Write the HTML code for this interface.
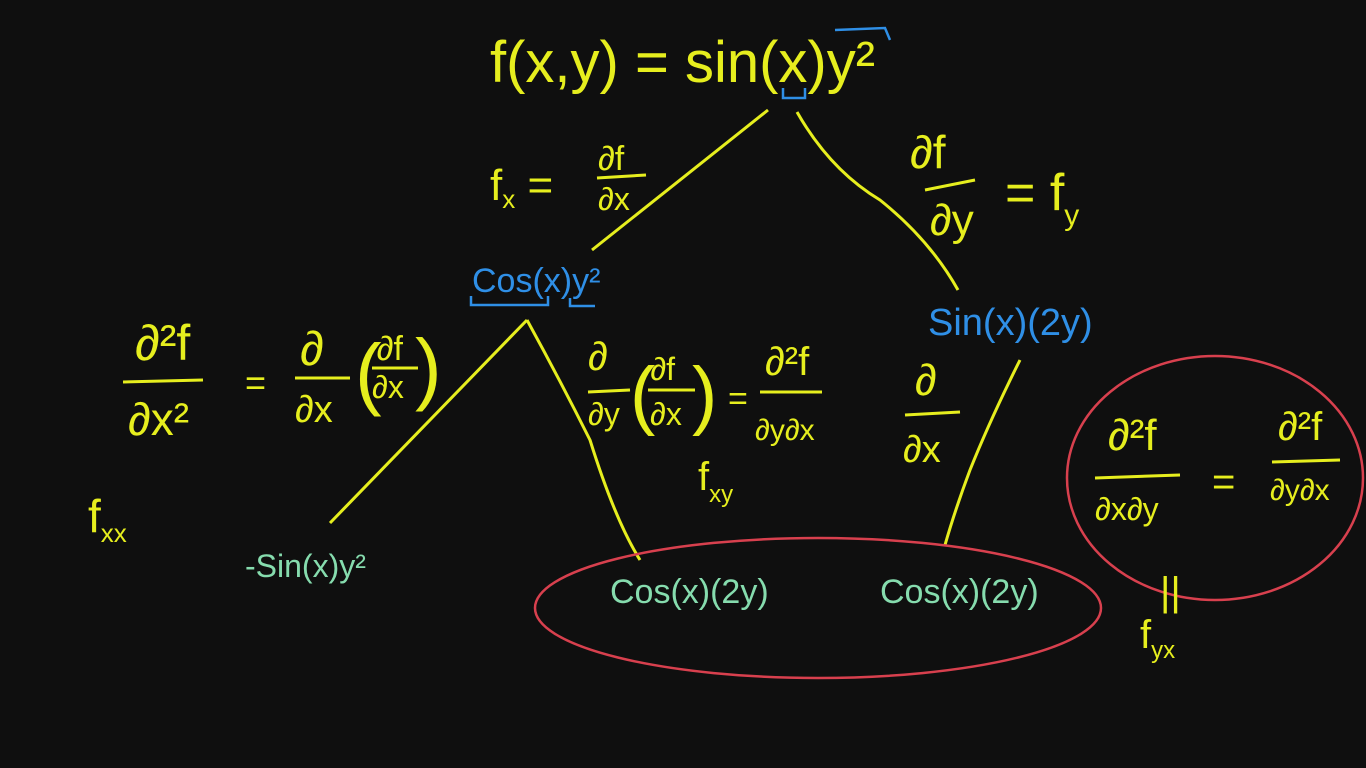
<!DOCTYPE html>
<html><head><meta charset="utf-8"><style>
html,body{margin:0;padding:0;background:#0f0f0f;}
svg{display:block}
text{font-family:"Liberation Sans",sans-serif;}
.y{fill:#e6ee1e}.b{fill:#2f8fe6}.g{fill:#86dcae}
</style></head><body>
<svg width="1366" height="768" viewBox="0 0 1366 768">
<rect width="1366" height="768" fill="#0f0f0f"/>
<g class="y">
<text x="490" y="82" font-size="58" class="y">f(x,y) = sin(x)y²</text>
</g>
<g stroke="#e6ee1e" stroke-width="3" fill="none">
<path d="M768 110 L592 250"/>
<path d="M797 112 Q830 170 880 200 Q930 240 958 290"/>
<path d="M527 320 L330 523"/>
<path d="M527 320 Q560 380 590 440 Q615 520 640 560"/>
<path d="M1020 360 Q990 420 970 470 Q955 510 945 545"/>
</g>
<g stroke="#2f8fe6" stroke-width="2.5" fill="none">
<path d="M783 88 L783 98 L805 98 L805 88"/>
<path d="M835 30 L885 28 L890 40"/>
<path d="M471 296 L471 305 L548 305 L548 296"/>
<path d="M570 298 L570 306 L595 306"/>
</g>
<text x="490" y="200" font-size="44" class="y">f<tspan font-size="26" dy="8">x</tspan><tspan dy="-8"> = </tspan></text>
<text x="598" y="170" font-size="34" class="y">∂f</text>
<line x1="597" y1="178" x2="646" y2="175" stroke="#e6ee1e" stroke-width="3"/>
<text x="598" y="210" font-size="32" class="y">∂x</text>
<text x="910" y="168" font-size="46" class="y">∂f</text>
<line x1="925" y1="190" x2="975" y2="180" stroke="#e6ee1e" stroke-width="3"/>
<text x="930" y="235" font-size="44" class="y">∂y</text>
<text x="1005" y="210" font-size="52" class="y">= f<tspan font-size="30" dy="15">y</tspan></text>
<text x="472" y="292" font-size="34" class="b">Cos(x)y²</text>
<text x="928" y="335" font-size="38" class="b">Sin(x)(2y)</text>
<text x="135" y="360" font-size="50" class="y">∂²f</text>
<line x1="123" y1="382" x2="203" y2="380" stroke="#e6ee1e" stroke-width="3"/>
<text x="128" y="435" font-size="46" class="y">∂x²</text>
<text x="245" y="395" font-size="36" class="y">=</text>
<text x="300" y="365" font-size="48" class="y">∂</text>
<line x1="295" y1="378" x2="350" y2="378" stroke="#e6ee1e" stroke-width="3"/>
<text x="295" y="422" font-size="38" class="y">∂x</text>
<text x="355" y="400" font-size="80" class="y">(<tspan font-size="34" dx="-5" dy="-40">∂f</tspan></text>
<line x1="372" y1="368" x2="418" y2="368" stroke="#e6ee1e" stroke-width="3"/>
<text x="372" y="398" font-size="32" class="y">∂x</text>
<text x="415" y="395" font-size="80" class="y">)</text>
<text x="88" y="532" font-size="46" class="y">f<tspan font-size="26" dy="10">xx</tspan></text>
<text x="588" y="370" font-size="40" class="y">∂</text>
<line x1="588" y1="392" x2="630" y2="390" stroke="#e6ee1e" stroke-width="3"/>
<text x="588" y="425" font-size="32" class="y">∂y</text>
<text x="630" y="420" font-size="76" class="y">(<tspan font-size="32" dx="-5" dy="-40">∂f</tspan></text>
<line x1="648" y1="390" x2="695" y2="390" stroke="#e6ee1e" stroke-width="3"/>
<text x="650" y="425" font-size="32" class="y">∂x</text>
<text x="692" y="420" font-size="76" class="y">)</text>
<text x="728" y="410" font-size="34" class="y">=</text>
<text x="765" y="375" font-size="40" class="y">∂²f</text>
<line x1="760" y1="392" x2="822" y2="392" stroke="#e6ee1e" stroke-width="3"/>
<text x="755" y="440" font-size="30" class="y">∂y∂x</text>
<text x="698" y="490" font-size="40" class="y">f<tspan font-size="24" dy="12">xy</tspan></text>
<text x="915" y="395" font-size="44" class="y">∂</text>
<line x1="905" y1="415" x2="960" y2="412" stroke="#e6ee1e" stroke-width="3"/>
<text x="903" y="462" font-size="38" class="y">∂x</text>
<text x="245" y="577" font-size="32" class="g">-Sin(x)y²</text>
<text x="610" y="603" font-size="34" class="g">Cos(x)(2y)</text>
<text x="880" y="603" font-size="34" class="g">Cos(x)(2y)</text>
<ellipse cx="818" cy="608" rx="283" ry="70" fill="none" stroke="#d8404e" stroke-width="2.5"/>
<ellipse cx="1215" cy="478" rx="148" ry="122" fill="none" stroke="#d8404e" stroke-width="2.5"/>
<text x="1108" y="450" font-size="44" class="y">∂²f</text>
<line x1="1095" y1="478" x2="1180" y2="475" stroke="#e6ee1e" stroke-width="3"/>
<text x="1095" y="520" font-size="32" class="y">∂x∂y</text>
<text x="1212" y="495" font-size="40" class="y">=</text>
<text x="1278" y="440" font-size="40" class="y">∂²f</text>
<line x1="1272" y1="462" x2="1340" y2="460" stroke="#e6ee1e" stroke-width="3"/>
<text x="1270" y="500" font-size="30" class="y">∂y∂x</text>
<text x="1160" y="605" font-size="40" class="y">||</text>
<text x="1140" y="648" font-size="40" class="y">f<tspan font-size="24" dy="10">yx</tspan></text>
</svg>
</body></html>
